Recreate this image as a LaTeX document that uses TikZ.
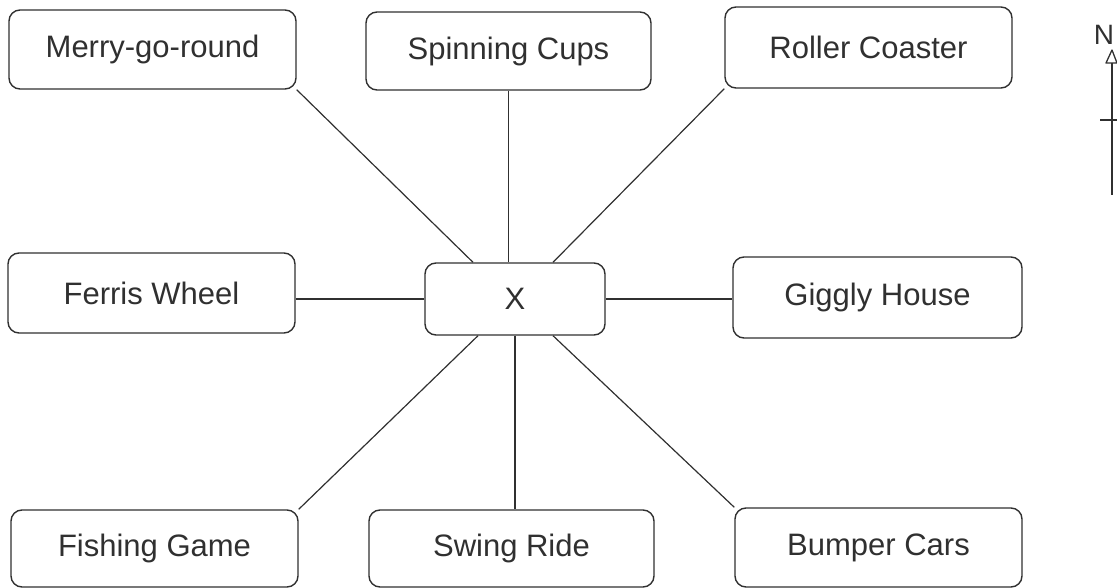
\documentclass[tikz,border=0pt]{standalone}
\usepackage{fontspec}
\setmainfont{Liberation Sans}
\definecolor{ink}{HTML}{303030}
\begin{document}
\begin{tikzpicture}[x=1pt,y=-1pt,
  ride/.style={draw=ink, line width=1.4pt, rounded corners=11pt,
    minimum width=285pt, minimum height=78pt, inner sep=0pt,
    font=\fontsize{31}{37}\selectfont, text=ink},
  link/.style={draw=ink, line width=1.2pt}]
\useasboundingbox (0,0) rectangle (1117,588);
\clip (0,0) rectangle (1117,588);
% rides
\node[ride, minimum width=287pt, minimum height=79pt] (merry) at (152.5,49.5) {Merry-go-round};
\node[ride] (cups) at (508.5,51) {Spinning Cups};
\node[ride, minimum width=287pt, minimum height=81pt] (roller) at (868.5,47.5) {Roller Coaster};
\node[ride, minimum width=287pt, minimum height=80pt] (ferris) at (151.5,293) {Ferris Wheel};
\node[ride, minimum width=180pt, minimum height=72pt] (x) at (515,299) {X};
\node[ride, minimum width=289pt, minimum height=81pt] (giggly) at (877.5,297.5) {Giggly House};
\node[ride, minimum width=287pt, minimum height=77pt] (fish) at (154.5,548.5) {Fishing Game};
\node[ride, minimum height=77pt] (swing) at (511.5,548.5) {Swing Ride};
\node[ride, minimum width=287pt, minimum height=79pt] (bumper) at (878.5,547.5) {Bumper Cars};
% connectors
\draw[link] (merry.south east) -- ([xshift=-42pt]x.north);
\draw[link] (cups.south) -- (cups.south |- x.north);
\draw[link] (roller.south west) -- ([xshift=38pt]x.north);
\draw[link] (ferris.east |- x.west) -- (x.west);
\draw[link] (x.east) -- (x.east -| giggly.west);
\draw[link] ([xshift=-37pt]x.south) -- (fish.north east);
\draw[link] (x.south) -- (x.south |- swing.north);
\draw[link] ([xshift=38pt]x.south) -- (bumper.north west);
% compass
\node[font=\fontsize{28}{34}\selectfont, text=ink, inner sep=0pt] (north) at (1104,35) {N};
\draw[ink, line width=1.3pt] (1112,63) -- (1112,195);
\draw[ink, line width=1.3pt, line join=round] (1106,63) -- (1112,50) -- (1117,63) -- cycle;
\draw[ink, line width=1.3pt] (1100,120) -- (1117,120);
\end{tikzpicture}
\end{document}
